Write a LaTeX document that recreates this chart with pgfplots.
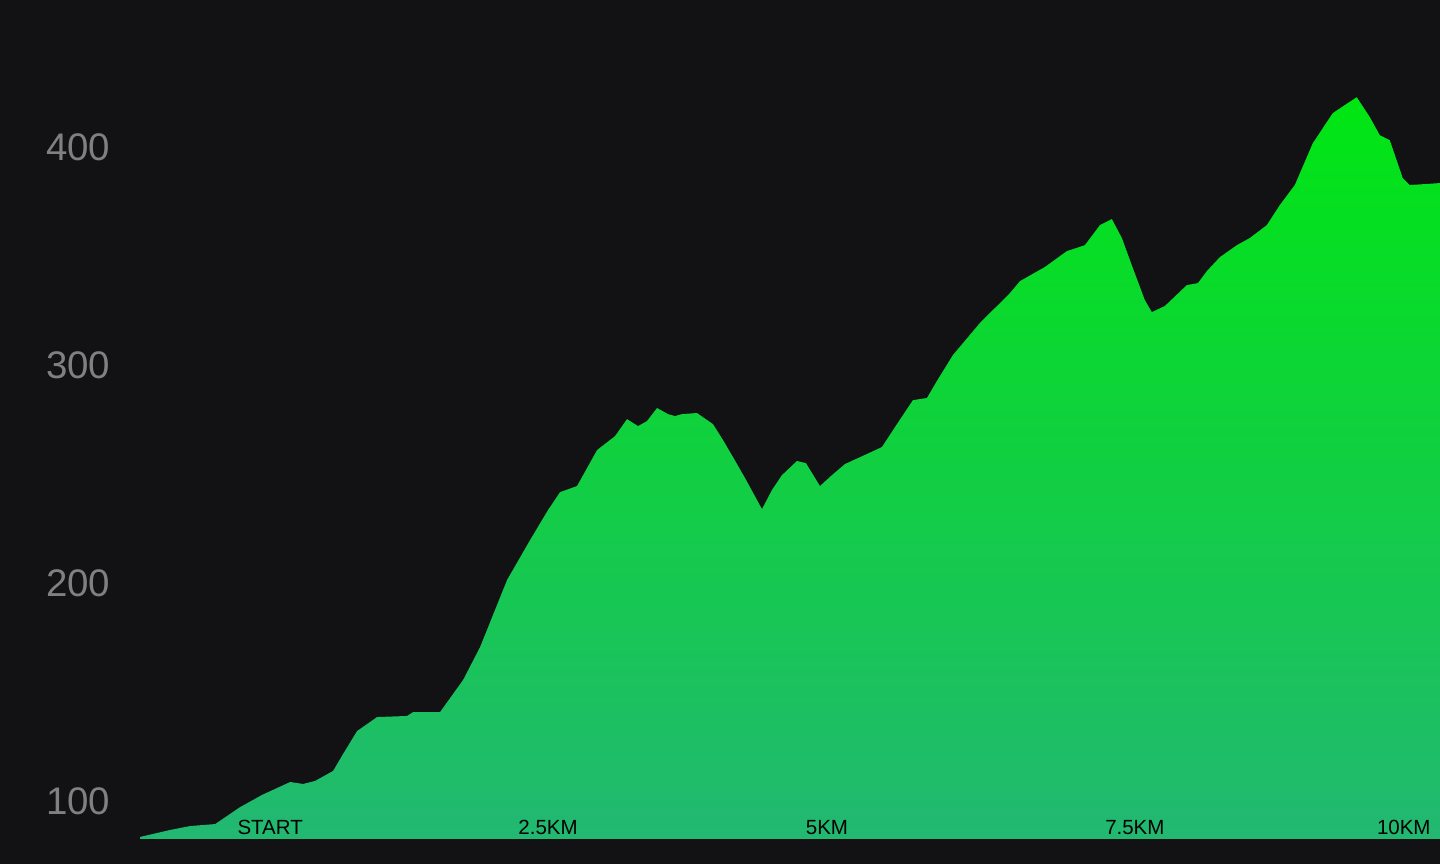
\documentclass[border=0pt]{standalone}
\usepackage{pgfplots}
\pgfplotsset{compat=1.18}
\usepackage{fontspec}
\setmainfont{Liberation Sans}
\definecolor{bg}{HTML}{121113}
\definecolor{gtop}{HTML}{00E612}
\definecolor{gbot}{HTML}{22B872}
\definecolor{ylab}{HTML}{808080}
\begin{document}
\begin{tikzpicture}
\begin{axis}[
  width=20cm, height=12cm, scale only axis,
  xmin=0, xmax=1440, ymin=71.1, ymax=467.4,
  axis on top,
  axis line style={draw=none},
  major tick length=0pt,
  axis background/.style={fill=bg},
  ytick={100,200,300,400},
  /pgf/number format/assume math mode=true,
  yticklabel style={anchor=center, xshift=1.083cm, text=ylab, font=\fontsize{15.2}{18}\selectfont},
  xtick={270,548,827,1135,1404},
  xticklabels={START,2.5KM,5KM,7.5KM,10KM},
  xticklabel style={anchor=base, yshift=0.403cm, text=black, font=\fontsize{8.1}{10}\selectfont},
]
\addplot[draw=none, top color=gtop, bottom color=gbot] coordinates {
(140,82.6) (140,83.5) (170,86.7) (190,88.5) (215,89.4) (240,97.2) (262,102.8)
(290,108.7) (303,107.8) (315,109.2) (333,113.8) (343,121.6) (357,132.1)
(377,138.5) (407,139.0) (413,140.8) (440,140.8) (463,155.5) (480,170.6)
(507,201.4) (530,219.7) (548,233.5) (560,241.7) (577,244.5) (597,261.0)
(615,267.4) (627,275.2) (638,272.0) (647,274.3) (657,280.3) (668,277.5)
(675,276.6) (682,277.5) (697,278.0) (713,272.9) (723,265.6) (733,257.8)
(745,248.2) (762,233.9) (772,242.7) (782,249.5) (797,256.0) (806,255.0)
(820,244.5) (832,249.5) (845,254.6) (867,259.2) (882,262.4) (897,272.9)
(913,283.9) (927,284.9) (937,292.7) (953,304.6) (980,319.3) (1010,333.0)
(1020,338.5) (1045,345.0) (1067,352.3) (1085,355.0) (1100,364.2) (1112,367.0)
(1122,358.3) (1133,344.5) (1145,329.8) (1152,324.3) (1165,327.1) (1187,336.7)
(1198,337.6) (1207,343.1) (1220,349.5) (1237,355.0) (1250,358.3) (1267,364.2)
(1280,373.4) (1295,382.6) (1313,401.8) (1333,415.6) (1348,420.2) (1357,422.9)
(1370,413.8) (1380,405.5) (1390,403.2) (1403,385.8) (1410,382.6) (1440,383.5)
(1440,82.6)
} -- cycle;
\end{axis}
\end{tikzpicture}
\end{document}
